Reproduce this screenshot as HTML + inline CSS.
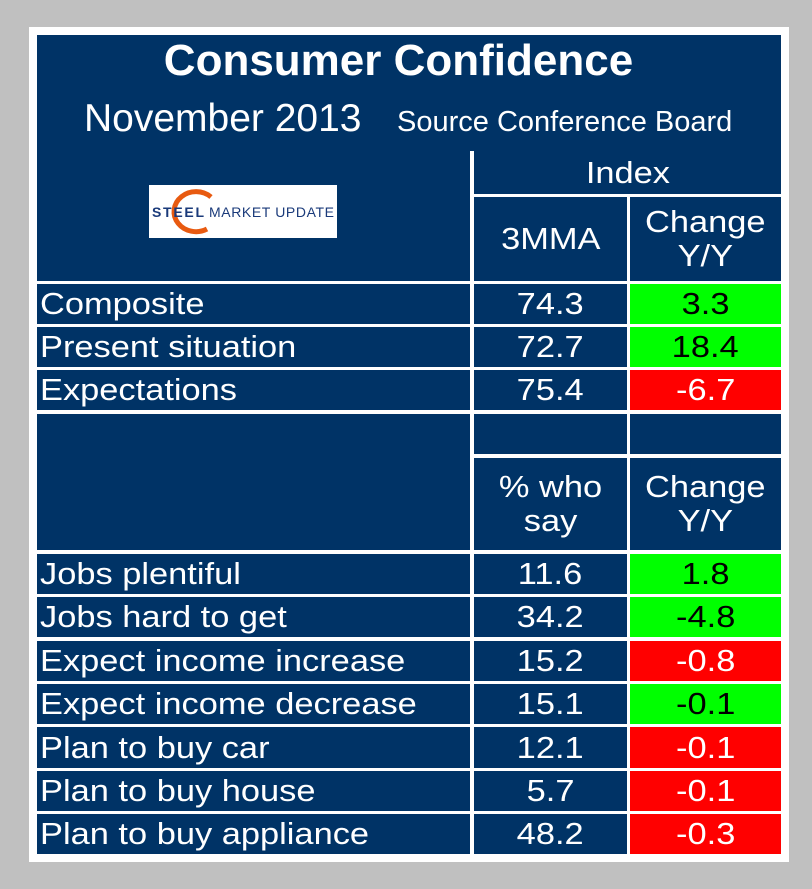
<!DOCTYPE html>
<html><head><meta charset="utf-8"><style>
body{margin:0;width:812px;height:889px;background:#c0c0c0;position:relative;overflow:hidden;font-family:"Liberation Sans",sans-serif}
#panel{position:absolute;left:29px;top:27px;width:760px;height:835px;background:#fff}
.c{position:absolute;background:#003366;color:#fff;display:flex;align-items:center;justify-content:center;text-align:center;font-size:31px;line-height:34px;box-sizing:border-box}
.c span{display:inline-block;transform:scaleX(1.11);transform-origin:center;white-space:nowrap}
.l{justify-content:flex-start;padding-left:3px}
.l span{transform-origin:left center}
</style></head><body>
<div id="panel"></div>
<div class="c" style="left:37px;top:35px;width:744px;height:116px;display:block"></div>
<div class="c" style="left:37px;top:140px;width:433px;height:141px"></div>
<div style="position:absolute;left:0;width:797px;top:36px;text-align:center;color:#fff;font-weight:bold;font-size:44px">Consumer Confidence</div>
<div style="position:absolute;left:84px;top:97px;color:#fff;font-size:39px">November 2013</div>
<div style="position:absolute;left:397px;top:106px;color:#fff;font-size:29px">Source Conference Board</div>
<div style="position:absolute;left:149px;top:185px;width:188px;height:53px;background:#fff">
<svg width="188" height="53"><path d="M62 12 A22 20 0 1 0 58 44" fill="none" stroke="#e85a10" stroke-width="5"/>
<text x="3" y="32" font-family="Liberation Sans" font-weight="bold" font-size="14" fill="#1a3a7a" textLength="52">STEEL</text>
<text x="60" y="32" font-family="Liberation Sans" font-size="14" fill="#1a3a7a" textLength="125">MARKET UPDATE</text></svg></div>
<div id="t"></div>
<script>
const labels=["Composite","Present situation","Expectations","","","Jobs plentiful","Jobs hard to get","Expect income increase","Expect income decrease","Plan to buy car","Plan to buy house","Plan to buy appliance"];
const values=["74.3","72.7","75.4","","","11.6","34.2","15.2","15.1","12.1","5.7","48.2"];
const changes=["3.3","18.4","-6.7","","","1.8","-4.8","-0.8","-0.1","-0.1","-0.1","-0.3"];
const good=[1,1,0,-1,-1,1,1,0,1,0,0,0];
const t=document.getElementById('t');
function cell(x,y,w,h,txt,cls,bg,col,name){const d=document.createElement('div');d.className='c '+(cls||'');d.style.left=x+'px';d.style.top=y+'px';d.style.width=w+'px';d.style.height=h+'px';if(bg)d.style.background=bg;if(col)d.style.color=col;d.innerHTML=txt?'<span>'+txt+'</span>':'';


t.appendChild(d);}
cell(474,151,307,43,'Index','',null,null,'index-header');
cell(474,197,153,84,'3MMA','',null,null,'3mma-header');
cell(630,197,151,84,'Change<br>Y/Y','',null,null,'change-header');
const tops=[284,327,370,414,458,554,597,641,684,727,771,814];
const hs=[40,40,40,40,92,40,40,40,40,41,40,40];
for(let i=0;i<labels.length;i++){
 const y=tops[i],h=hs[i];
 if(i===4){cell(37,414,433,136,'','',null,null,'blank-label');cell(474,y,153,h,'% who<br>say','',null,null,'pct-header');cell(630,y,151,h,'Change<br>Y/Y','',null,null,'change-header-2');continue;}
 if(i===3){cell(474,y,153,h,'','',null,null,'blank-cell');cell(630,y,151,h,'','',null,null,'blank-cell');continue;}
 cell(37,y,433,h,labels[i],'l',null,null,'row-label');
 cell(474,y,153,h,values[i],'',null,null,'value-cell');
 cell(630,y,151,h,changes[i],'',good[i]?'#00ff00':'#ff0000',good[i]?'#000':'#fff','change-cell');
}
</script>
</body></html>
